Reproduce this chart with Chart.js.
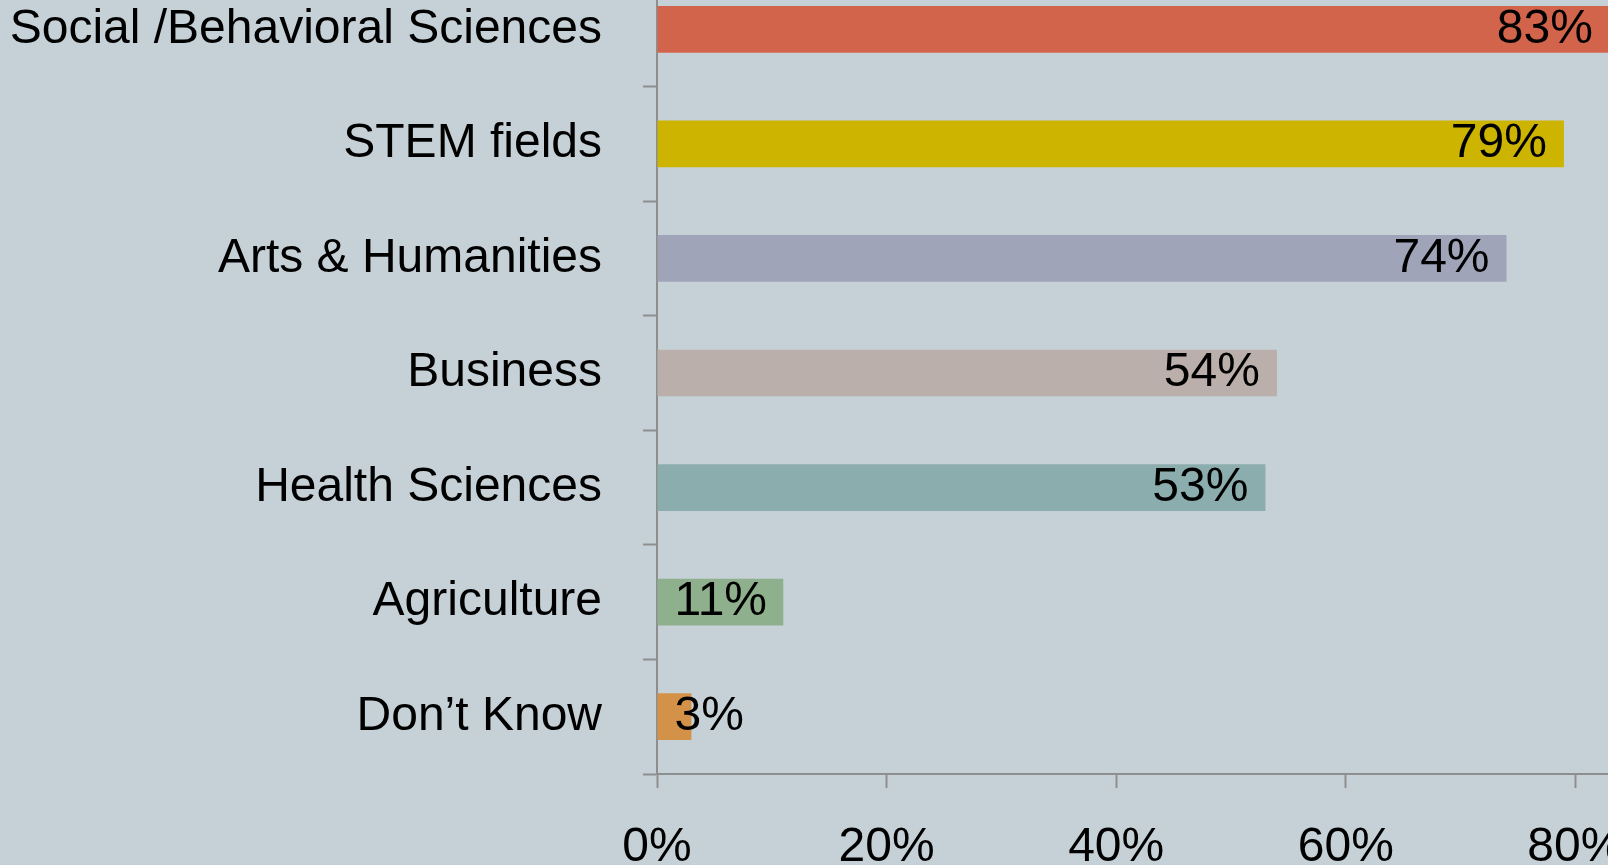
<!DOCTYPE html>
<html>
<head>
<meta charset="utf-8">
<script src="https://cdn.jsdelivr.net/npm/chart.js@4/dist/chart.umd.min.js"></script>
<style>
  html, body { margin: 0; padding: 0; width: 1608px; height: 865px; overflow: hidden; background: #C6D1D7; }
  #wrap { position: absolute; left: 0; top: -28px; width: 1805px; height: 900px; }
</style>
</head>
<body>
<div id="wrap"><canvas id="c" width="1805" height="900"></canvas></div>
<script>
const categories = ["Social /Behavioral Sciences", "STEM fields", "Arts & Humanities", "Business", "Health Sciences", "Agriculture", "Don\u2019t Know"];
const values = [83, 79, 74, 54, 53, 11, 3];
const barColors = ["#D2644B", "#CCB400", "#A0A4B8", "#BAAFAA", "#8BADAD", "#8FB08C", "#D49249"];
const xTicks = [0, 20, 40, 60, 80, 100];

const FONT = '"Liberation Sans", Arial, sans-serif';
const AXIS = '#8E8E8E';

const labelPlugin = {
  id: 'barLabels',
  afterDatasetsDraw(chart) {
    const ctx = chart.ctx;
    const meta = chart.getDatasetMeta(0);
    ctx.save();
    ctx.font = '48px ' + FONT;
    ctx.fillStyle = '#000';
    ctx.textAlign = 'right';
    ctx.textBaseline = 'middle';
    meta.data.forEach((el, i) => {
      const txt = values[i] + '%';
      const w = ctx.measureText(txt).width;
      const right = Math.max(el.x - 17, el.base + 17 + w);
      ctx.fillText(txt, right, el.y);
    });
    ctx.restore();
  }
};

new Chart(document.getElementById('c'), {
  type: 'bar',
  data: {
    labels: categories,
    datasets: [{
      data: values,
      backgroundColor: barColors,
      borderWidth: 0,
      categoryPercentage: 1,
      barPercentage: 0.408
    }]
  },
  options: {
    indexAxis: 'y',
    responsive: false,
    animation: false,
    layout: { padding: 0 },
    plugins: { legend: { display: false }, tooltip: { enabled: false } },
    scales: {
      x: {
        min: 0, max: 100,
        afterBuildTicks(scale) { scale.ticks = xTicks.map(v => ({ value: v })); },
        ticks: {
          callback: v => v + '%',
          font: { family: FONT, size: 48 },
          color: '#000',
          padding: 31,
          maxRotation: 0
        },
        grid: { drawOnChartArea: false, tickLength: 14, tickWidth: 2, color: AXIS },
        border: { color: AXIS, width: 2 },
        afterFit(scale) {
          scale.height = 98;
          scale.paddingLeft = 0; scale.paddingRight = 0;
          scale.paddingTop = 0; scale.paddingBottom = 0;
        }
      },
      y: {
        ticks: {
          font: { family: FONT, size: 48 },
          color: '#000',
          padding: 41
        },
        grid: { drawOnChartArea: false, offset: true, tickLength: 14, tickWidth: 2, color: AXIS },
        border: { color: AXIS, width: 2 },
        afterFit(scale) {
          scale.width = 657;
          scale.paddingLeft = 0; scale.paddingRight = 0;
          scale.paddingTop = 0; scale.paddingBottom = 0;
        }
      }
    }
  },
  plugins: [labelPlugin]
});
</script>
</body>
</html>
